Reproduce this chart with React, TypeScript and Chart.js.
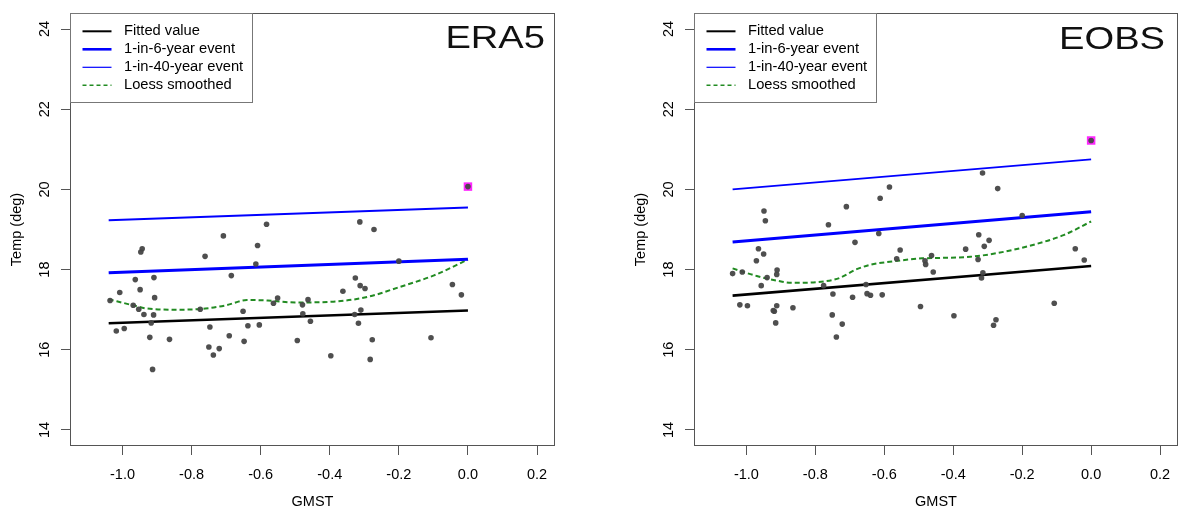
import React, { useEffect, useRef } from "react";
import { Chart, registerables } from "chart.js";

Chart.register(...registerables);

// ---------- data ----------
const panelTitles = ["ERA5", "EOBS"];
const legendLabels = ["Fitted value", "1-in-6-year event", "1-in-40-year event", "Loess smoothed"];
const xTicks = [-1.0, -0.8, -0.6, -0.4, -0.2, 0.0, 0.2];
const xTickLabels = ["-1.0", "-0.8", "-0.6", "-0.4", "-0.2", "0.0", "0.2"];
const yTicks = [14, 16, 18, 20, 22, 24];
const yTickLabels = ["14", "16", "18", "20", "22", "24"];
const xAxisTitle = "GMST";
const yAxisTitle = "Temp (deg)";

// ERA5 observations
const gmstEra5 = [-1.036, -1.008, -1.018, -0.995, -0.963, -0.969, -0.949, -0.947, -0.943, -0.953, -0.938, -0.909, -0.907, -0.910, -0.917, -0.921, -0.913, -0.864, -0.775, -0.761, -0.747, -0.750, -0.737, -0.720, -0.708, -0.691, -0.685, -0.651, -0.648, -0.637, -0.604, -0.614, -0.609, -0.583, -0.563, -0.551, -0.494, -0.479, -0.478, -0.463, -0.456, -0.397, -0.362, -0.326, -0.328, -0.313, -0.312, -0.298, -0.310, -0.317, -0.272, -0.277, -0.283, -0.200, -0.107, -0.045, -0.019];
const tempEra5 = [17.23, 17.43, 16.47, 16.53, 17.75, 17.11, 17.50, 18.44, 18.52, 17.01, 16.88, 17.80, 17.30, 16.87, 16.67, 16.31, 15.51, 16.26, 17.01, 18.33, 16.57, 16.07, 15.87, 16.03, 18.84, 16.35, 17.85, 16.96, 16.21, 16.60, 16.62, 18.14, 18.60, 19.13, 17.16, 17.29, 16.23, 17.12, 16.90, 17.25, 16.71, 15.85, 17.46, 17.79, 16.88, 19.19, 17.60, 17.53, 16.99, 16.66, 19.00, 16.25, 15.76, 18.21, 16.30, 17.63, 17.37];
const era5HighlightX = [0.0];
const era5HighlightY = [20.07];

// EOBS observations
const gmstEobs = [-1.040, -1.012, -1.019, -0.997, -0.971, -0.965, -0.950, -0.949, -0.945, -0.957, -0.940, -0.911, -0.912, -0.922, -0.919, -0.912, -0.915, -0.865, -0.776, -0.762, -0.749, -0.751, -0.739, -0.722, -0.710, -0.692, -0.685, -0.653, -0.650, -0.640, -0.612, -0.606, -0.616, -0.585, -0.564, -0.554, -0.495, -0.482, -0.480, -0.463, -0.458, -0.398, -0.364, -0.326, -0.328, -0.315, -0.310, -0.296, -0.314, -0.318, -0.271, -0.276, -0.283, -0.200, -0.107, -0.046, -0.020];
const tempEobs = [17.90, 17.94, 17.12, 17.10, 18.22, 18.52, 18.39, 19.46, 19.22, 17.60, 17.80, 17.99, 17.88, 16.98, 16.96, 17.10, 16.67, 17.05, 17.60, 19.12, 17.39, 16.87, 16.32, 16.64, 19.57, 17.31, 18.68, 17.63, 17.40, 17.36, 19.78, 17.37, 18.90, 20.06, 18.27, 18.49, 17.08, 18.22, 18.13, 18.35, 17.94, 16.85, 18.51, 18.87, 18.25, 20.41, 18.58, 18.73, 17.92, 17.79, 20.02, 16.75, 16.61, 19.35, 17.16, 18.52, 18.24];
const eobsHighlightX = [0.0];
const eobsHighlightY = [21.22];

// fitted / return-level lines (end points)
const fitX = [-1.04, 0.0];
const era5Fitted = [16.66, 16.98];
const era5Event6 = [17.92, 18.26];
const era5Event40 = [19.23, 19.55];
const eobsFitted = [17.35, 18.09];
const eobsEvent6 = [18.69, 19.44];
const eobsEvent40 = [20.0, 20.75];

// loess smoothed curves
const era5LoessX = [-1.04, -0.97, -0.93, -0.84, -0.76, -0.70, -0.64, -0.58, -0.50, -0.39, -0.29, -0.20, -0.10, 0.0];
const era5LoessY = [17.26, 17.11, 17.03, 17.00, 17.03, 17.11, 17.24, 17.23, 17.18, 17.20, 17.32, 17.56, 17.85, 18.25];
const eobsLoessX = [-1.04, -0.97, -0.91, -0.87, -0.77, -0.73, -0.68, -0.64, -0.57, -0.49, -0.44, -0.35, -0.28, -0.18, -0.08, 0.0];
const eobsLoessY = [18.03, 17.84, 17.72, 17.67, 17.71, 17.79, 18.01, 18.12, 18.21, 18.28, 18.29, 18.32, 18.40, 18.59, 18.86, 19.20];

// ---------- helpers ----------
const FONT = '"Liberation Sans", Arial, Helvetica, sans-serif';
const zip = (xs: number[], ys: number[]) => xs.map((x, i) => ({ x, y: ys[i] }));

const legendStyles = [
  { color: "#000000", width: 2, dash: [] as number[] },
  { color: "#0000ff", width: 2.6, dash: [] as number[] },
  { color: "#0000ff", width: 1.2, dash: [] as number[] },
  { color: "#228B22", width: 1.6, dash: [4, 3] },
];

type PanelSpec = {
  title: string;
  gmst: number[];
  temp: number[];
  hx: number[];
  hy: number[];
  fitted: number[];
  ev6: number[];
  ev40: number[];
  lx: number[];
  ly: number[];
  yAxisWidth: number;
  rightPad: number;
  titleInset: number;
  titleBase: number;
};

function decorPlugin(p: PanelSpec) {
  return {
    id: "panelDecor",
    afterDraw(chart: any) {
      const { ctx, chartArea: a, scales } = chart;
      const xs = scales.x;
      const ys = scales.y;
      ctx.save();
      // plot box
      ctx.strokeStyle = "#555";
      ctx.lineWidth = 1;
      ctx.setLineDash([]);
      ctx.strokeRect(a.left + 0.5, a.top + 0.5, a.right - a.left - 1, a.bottom - a.top - 1);

      // tick labels
      ctx.fillStyle = "#000";
      ctx.font = `14.5px ${FONT}`;
      ctx.textAlign = "center";
      ctx.textBaseline = "middle";
      xTicks.forEach((v, i) => {
        ctx.fillText(xTickLabels[i], xs.getPixelForValue(v), a.bottom + 29);
      });
      yTicks.forEach((v, i) => {
        ctx.save();
        ctx.translate(a.left - 25, ys.getPixelForValue(v));
        ctx.rotate(-Math.PI / 2);
        ctx.fillText(yTickLabels[i], 0, 0);
        ctx.restore();
      });
      // axis titles
      ctx.font = `14.5px ${FONT}`;
      ctx.fillText(xAxisTitle, (a.left + a.right) / 2, a.bottom + 55.5);
      ctx.save();
      ctx.translate(a.left - 53, (a.top + a.bottom) / 2);
      ctx.rotate(-Math.PI / 2);
      ctx.fillText(yAxisTitle, 0, 0);
      ctx.restore();

      // legend
      const lx = a.left;
      const ly = a.top;
      const lw = 182;
      const lh = 89;
      ctx.fillStyle = "#fff";
      ctx.fillRect(lx, ly, lw, lh);
      ctx.strokeStyle = "#777";
      ctx.lineWidth = 1;
      ctx.strokeRect(lx + 0.5, ly + 0.5, lw, lh);
      ctx.font = `14.7px ${FONT}`;
      ctx.textAlign = "left";
      ctx.textBaseline = "middle";
      legendLabels.forEach((lab, i) => {
        const yy = ly + 18.3 + i * 18;
        const st = legendStyles[i];
        ctx.strokeStyle = st.color;
        ctx.lineWidth = st.width;
        ctx.setLineDash(st.dash);
        ctx.beginPath();
        ctx.moveTo(lx + 12.5, yy);
        ctx.lineTo(lx + 41.5, yy);
        ctx.stroke();
        ctx.setLineDash([]);
        ctx.fillStyle = "#000";
        ctx.fillText(lab, lx + 54, yy);
      });

      // panel title
      ctx.save();
      ctx.font = `31px ${FONT}`;
      ctx.fillStyle = "#111";
      ctx.textAlign = "right";
      ctx.textBaseline = "alphabetic";
      ctx.translate(a.right - p.titleInset, a.top + p.titleBase);
      ctx.scale(1.23, 1);
      ctx.fillText(p.title, 0, 0);
      ctx.restore();

      ctx.restore();
    },
  };
}

function makeConfig(p: PanelSpec): any {
  return {
    type: "scatter",
    data: {
      datasets: [
        {
          label: "obs",
          data: zip(p.gmst, p.temp),
          pointRadius: 2.8,
          pointHoverRadius: 2.8,
          backgroundColor: "rgba(70,70,70,0.95)",
          borderWidth: 0,
          showLine: false,
          order: 0,
        },
        {
          label: "obs-latest",
          data: zip(p.hx, p.hy),
          pointRadius: 2.8,
          backgroundColor: "rgba(70,70,70,0.95)",
          borderWidth: 0,
          showLine: false,
          order: 0,
        },
        {
          label: "latest-marker",
          data: zip(p.hx, p.hy),
          pointStyle: "rect",
          pointRadius: 6,
          backgroundColor: "rgba(255,0,255,0.85)",
          borderWidth: 0,
          showLine: false,
          order: 1,
        },
        {
          label: legendLabels[0],
          data: zip(fitX, p.fitted),
          showLine: true,
          borderColor: "#000",
          borderWidth: 2.6,
          pointRadius: 0,
          order: 2,
        },
        {
          label: legendLabels[1],
          data: zip(fitX, p.ev6),
          showLine: true,
          borderColor: "#0000ff",
          borderWidth: 3,
          pointRadius: 0,
          order: 2,
        },
        {
          label: legendLabels[2],
          data: zip(fitX, p.ev40),
          showLine: true,
          borderColor: "#0000ff",
          borderWidth: 1.9,
          pointRadius: 0,
          order: 2,
        },
        {
          label: legendLabels[3],
          data: zip(p.lx, p.ly),
          showLine: true,
          borderColor: "#228B22",
          borderWidth: 2,
          borderDash: [5, 3],
          cubicInterpolationMode: "monotone",
          pointRadius: 0,
          order: 2,
        },
      ],
    },
    options: {
      animation: false,
      responsive: false,
      devicePixelRatio: 1,
      events: [],
      layout: { autoPadding: false, padding: { left: 0, top: 13, right: p.rightPad, bottom: 0 } },
      plugins: { legend: { display: false }, tooltip: { enabled: false } },
      scales: {
        x: {
          type: "linear",
          min: -1.152,
          max: 0.252,
          afterBuildTicks: (s: any) => {
            s.ticks = xTicks.map((v) => ({ value: v }));
          },
          afterFit: (s: any) => {
            s.height = 64;
          },
          grid: { display: true, drawOnChartArea: false, drawTicks: true, tickLength: 9, color: "#555", lineWidth: 1 },
          border: { display: false },
          ticks: { display: false },
        },
        y: {
          type: "linear",
          min: 13.6,
          max: 24.4,
          afterBuildTicks: (s: any) => {
            s.ticks = yTicks.map((v) => ({ value: v }));
          },
          afterFit: (s: any) => {
            s.width = p.yAxisWidth;
          },
          grid: { display: true, drawOnChartArea: false, drawTicks: true, tickLength: 9, color: "#555", lineWidth: 1 },
          border: { display: false },
          ticks: { display: false },
        },
      },
    },
    plugins: [decorPlugin(p)],
  };
}

const era5Panel: PanelSpec = {
  title: panelTitles[0],
  gmst: gmstEra5,
  temp: tempEra5,
  hx: era5HighlightX,
  hy: era5HighlightY,
  fitted: era5Fitted,
  ev6: era5Event6,
  ev40: era5Event40,
  lx: era5LoessX,
  ly: era5LoessY,
  yAxisWidth: 70,
  rightPad: 34,
  titleInset: 10,
  titleBase: 34.5,
};

const eobsPanel: PanelSpec = {
  title: panelTitles[1],
  gmst: gmstEobs,
  temp: tempEobs,
  hx: eobsHighlightX,
  hy: eobsHighlightY,
  fitted: eobsFitted,
  ev6: eobsEvent6,
  ev40: eobsEvent40,
  lx: eobsLoessX,
  ly: eobsLoessY,
  yAxisWidth: 105,
  rightPad: 1,
  titleInset: 13,
  titleBase: 35.5,
};

export default function App() {
  const leftRef = useRef<HTMLCanvasElement | null>(null);
  const rightRef = useRef<HTMLCanvasElement | null>(null);

  useEffect(() => {
    const c1 = new Chart(leftRef.current as HTMLCanvasElement, makeConfig(era5Panel));
    const c2 = new Chart(rightRef.current as HTMLCanvasElement, makeConfig(eobsPanel));
    return () => {
      c1.destroy();
      c2.destroy();
    };
  }, []);

  return (
    <div
      style={{
        position: "absolute",
        left: 0,
        top: 0,
        width: 1179,
        height: 510,
        background: "#fff",
        overflow: "hidden",
      }}
    >
      <canvas ref={leftRef} width={589} height={510} style={{ position: "absolute", left: 0, top: 0 }} />
      <canvas ref={rightRef} width={590} height={510} style={{ position: "absolute", left: 589, top: 0 }} />
    </div>
  );
}
